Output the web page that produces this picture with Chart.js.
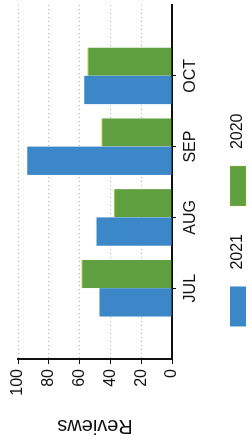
<!DOCTYPE html>
<html>
<head>
<meta charset="utf-8">
<script src="https://cdn.jsdelivr.net/npm/chart.js@4"></script>
<style>
  html, body { margin: 0; padding: 0; background: #fff; overflow: hidden; width: 252px; height: 440px; }
  #wrap {
    position: absolute; left: 0; top: 0;
    width: 440px; height: 256px;
    transform-origin: 0 0;
    transform: translateY(440px) rotate(-90deg);
  }
</style>
</head>
<body>
<div id="wrap"><canvas id="chart" width="440" height="256"></canvas></div>
<script>
const categories = ['JUL', 'AUG', 'SEP', 'OCT'];
const seriesNames = ['2021', '2020'];
const reviews2021 = [47, 49, 94, 57];
const reviews2020 = [59, 38, 46, 55];
const valueTicks = [0, 20, 40, 60, 80, 100];

// half-category gap at both ends of the axis
const labels = [''].concat(categories, ['']);
const pad = arr => [null].concat(arr, [null]);

const font = { family: "'Liberation Sans', Arial, sans-serif", size: 16 };

new Chart(document.getElementById('chart'), {
  type: 'bar',
  data: {
    labels,
    datasets: [
      {
        label: seriesNames[0],
        data: pad(reviews2021),
        backgroundColor: '#3c87c7',
        borderWidth: 0,
      },
      {
        label: seriesNames[1],
        data: pad(reviews2020),
        backgroundColor: '#5f9f3f',
        borderColor: '#d8d23a',
        borderWidth: { top: 1, left: 0, right: 0, bottom: 0 },
        borderSkipped: 'bottom',
      },
    ],
  },
  options: {
    responsive: false,
    animation: false,
    datasets: { bar: { categoryPercentage: 0.8, barPercentage: 1.0 } },
    layout: { padding: { top: 18, right: 0, bottom: 0, left: 0 } },
    plugins: {
      legend: {
        position: 'bottom',
        labels: {
          font, color: '#111', boxWidth: 40, boxHeight: 16, padding: 28,
          generateLabels: chart => Chart.defaults.plugins.legend.labels.generateLabels(chart)
            .map(item => Object.assign(item, { text: '  ' + item.text })),
        },
      },
      tooltip: { enabled: false },
    },
    scales: {
      x: {
        offset: false,
        grid: {
          offset: false,
          drawOnChartArea: false,
          tickLength: 4,
          color: ctx => (ctx.index === 0 || ctx.index === labels.length - 1 ? 'rgba(0,0,0,0)' : '#111'),
        },
        border: { color: '#111', width: 2 },
        ticks: { font, color: '#111', padding: 5, maxRotation: 0, autoSkip: false },
        afterFit: s => { s.height = 30; },
      },
      y: {
        min: valueTicks[0],
        max: valueTicks[valueTicks.length - 1],
        afterBuildTicks: s => { s.ticks = valueTicks.map(v => ({ value: v })); },
        grid: { color: '#bdb8a8', lineWidth: 1, tickColor: '#111', tickLength: 5 },
        border: { color: '#111', width: 2, dash: [1, 3] },
        ticks: { font, color: '#111', padding: 5 },
        title: { display: true, text: 'Reviews', font: { family: font.family, size: 20 }, color: '#111', padding: { top: 2, bottom: 2 } },
        afterFit: s => { s.width = 81; },
      },
    },
  },
});
</script>
</body>
</html>
